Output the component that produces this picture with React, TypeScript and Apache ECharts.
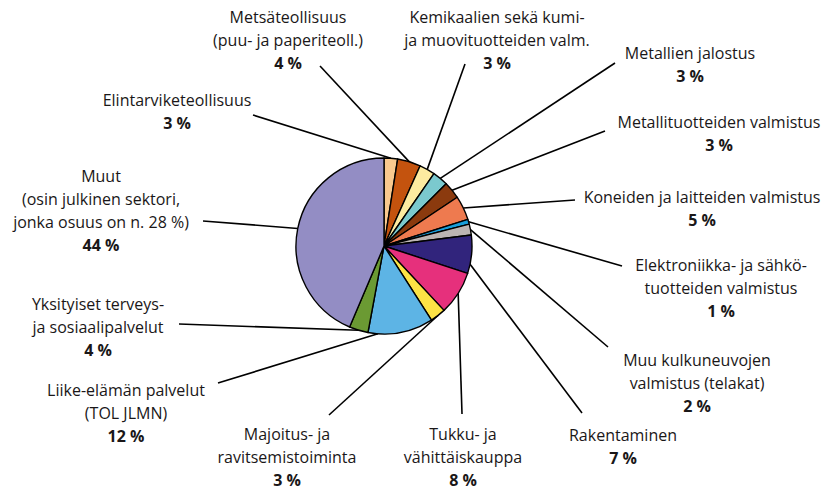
import React, { useEffect, useRef } from 'react';
import * as echarts from 'echarts';

// Categories in clockwise order starting from 12 o'clock
const categories: string[] = [
  'Elintarviketeollisuus',
  'Metsäteollisuus\n(puu- ja paperiteoll.)',
  'Kemikaalien sekä kumi-\nja muovituotteiden valm.',
  'Metallien jalostus',
  'Metallituotteiden valmistus',
  'Koneiden ja laitteiden valmistus',
  'Elektroniikka- ja sähkö-\ntuotteiden valmistus',
  'Muu kulkuneuvojen\nvalmistus (telakat)',
  'Rakentaminen',
  'Tukku- ja\nvähittäiskauppa',
  'Majoitus- ja\nravitsemistoiminta',
  'Liike-elämän palvelut\n(TOL JLMN)',
  'Yksityiset terveys-\nja sosiaalipalvelut',
  'Muut\n(osin julkinen sektori,\njonka osuus on n. 28 %)',
];

// Slice sizes estimated from the drawn angles
const shares: number[] = [2.5, 4.3, 2.9, 2.9, 3.2, 4.5, 0.9, 2.0, 7.1, 8.1, 2.9, 12.1, 3.5, 44.0];

// Percentages printed in the labels
const shownPercents: number[] = [3, 4, 3, 3, 3, 5, 1, 2, 7, 8, 3, 12, 4, 44];

const colors: string[] = [
  '#F9C98E', '#C4530E', '#FDEBA0', '#7BC9CE', '#8B3A0E', '#EE7A4F', '#189FDB',
  '#BCB5B3', '#31247C', '#E6307C', '#FDE345', '#5DB4E5', '#6B9A33', '#938DC4',
];

const PIE_CENTER: [number, number] = [384, 246];
const PIE_RADIUS = 88;

// Layout: label block centre (x, y), leader-line end (ex, ey),
// optional anchor angle on the rim (degrees clockwise from 12 o'clock)
const LABEL_LAYOUT: { x: number; y: number; ex: number; ey: number; anchorDeg?: number }[] = [
  { x: 177, y: 111, ex: 253, ey: 115 },
  { x: 288, y: 40, ex: 320, ey: 66 },
  { x: 497, y: 40, ex: 465, ey: 64 },
  { x: 690, y: 64, ex: 615, ey: 63 },
  { x: 719, y: 133, ex: 605, ey: 131 },
  { x: 702, y: 208, ex: 575, ey: 200 },
  { x: 721, y: 288, ex: 622, ey: 266 },
  { x: 697, y: 383, ex: 608, ey: 347 },
  { x: 623, y: 446, ex: 582, ey: 413, anchorDeg: 102 },
  { x: 463, y: 457, ex: 462, ey: 414 },
  { x: 287, y: 457, ex: 329, ey: 415 },
  { x: 126, y: 413, ex: 218, ey: 383, anchorDeg: 184 },
  { x: 98, y: 327, ex: 179, ey: 324 },
  { x: 101, y: 210, ex: 203, ey: 221 },
];

const FONT = '"Open Sans", "Noto Sans", sans-serif';
const TEXT_COLOR = '#1A1718';

export default function App() {
  const ref = useRef<HTMLDivElement>(null);

  useEffect(() => {
    if (!ref.current) return;
    const chart = echarts.init(ref.current, undefined, { renderer: 'svg' });
    const data = categories.map((name, i) => ({
      name,
      value: shares[i],
      itemStyle: { color: colors[i] },
    }));
    chart.setOption({
      animation: false,
      backgroundColor: '#ffffff',
      series: [
        {
          type: 'pie',
          center: PIE_CENTER,
          radius: PIE_RADIUS,
          startAngle: 90,
          clockwise: true,
          avoidLabelOverlap: false,
          data,
          itemStyle: { borderColor: '#000000', borderWidth: 1.4 },
          emphasis: { disabled: true },
          label: {
            show: true,
            position: 'outer',
            alignTo: 'none',
            formatter: (p: any) => `{n|${categories[p.dataIndex]}}\n{p|${shownPercents[p.dataIndex]} %}`,
            align: 'center',
            rich: {
              n: { fontFamily: FONT, fontSize: 16, lineHeight: 23, color: TEXT_COLOR, align: 'center' },
              p: { fontFamily: FONT, fontSize: 16, lineHeight: 23, fontWeight: 'bold', color: TEXT_COLOR, align: 'center' },
            },
          },
          labelLine: {
            show: true,
            length: 10,
            length2: 10,
            smooth: false,
            lineStyle: { color: '#000000', width: 1.6 },
          },
          labelLayout: (p: any) => {
            const L = LABEL_LAYOUT[p.dataIndex];
            let a = p.labelLinePoints ? p.labelLinePoints[0] : [L.ex, L.ey];
            if (L.anchorDeg != null) {
              const rad = (L.anchorDeg * Math.PI) / 180;
              a = [PIE_CENTER[0] + PIE_RADIUS * Math.sin(rad), PIE_CENTER[1] - PIE_RADIUS * Math.cos(rad)];
            }
            return {
              x: L.x,
              y: L.y,
              align: 'center',
              verticalAlign: 'middle',
              labelLinePoints: [a, [L.ex, L.ey]],
            };
          },
        },
      ],
    });
    return () => chart.dispose();
  }, []);

  return <div ref={ref} style={{ position: 'absolute', left: 0, top: 0, width: 830, height: 490 }} />;
}
